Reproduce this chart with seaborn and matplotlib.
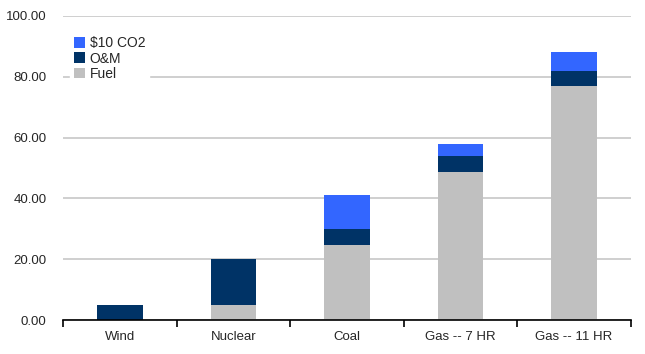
import numpy as np
import pandas as pd
import matplotlib
matplotlib.use("Agg")
import matplotlib.pyplot as plt
import seaborn as sns

# data
categories = ["Wind", "Nuclear", "Coal", "Gas -- 7 HR", "Gas -- 11 HR"]
fuel = [0.0, 5.0, 24.7, 48.8, 76.8]
om = [5.0, 15.0, 5.3, 5.0, 5.0]
co2 = [0.0, 0.0, 11.0, 4.2, 6.5]

sns.set_style("white")
plt.rcParams["font.family"] = ["Liberation Sans", "DejaVu Sans"]

df = pd.DataFrame({"cat": categories, "fuel": fuel, "om": om, "co2": co2})
df["lvl_om"] = df["fuel"] + df["om"]
df["lvl_co2"] = df["lvl_om"] + df["co2"]

fig = plt.figure(figsize=(6.45, 3.54), dpi=100)
ax = fig.add_axes([0.098, 0.096, 0.88, 0.859])

# stacked bars: draw cumulative totals, top layer first
layers = [("lvl_co2", "#3366FF", "$10 CO2"),
          ("lvl_om", "#003366", "O&M"),
          ("fuel", "#C0C0C0", "Fuel")]
for col, color, lab in layers:
    sns.barplot(data=df, x="cat", y=col, color=color, label=lab,
                width=0.4, saturation=1, linewidth=0, ax=ax, zorder=3)

ax.set_ylim(0, 100)
ax.set_xlim(-0.5, len(categories) - 0.5)
ax.set_yticks(np.arange(0, 101, 20))
ax.set_yticklabels([f"{v:.2f}" for v in np.arange(0, 101, 20)], fontsize=9.5)
ax.yaxis.grid(True, color="#CCCCCC", linewidth=1.3, zorder=0)
ax.tick_params(axis="y", length=0, pad=12)

ax.set_xticks(range(len(categories)))
ax.set_xticklabels(categories, fontsize=9.5)
ax.set_xticks(np.arange(-0.5, len(categories)), minor=True)
ax.tick_params(axis="x", which="major", bottom=False, length=0, pad=8)
ax.tick_params(axis="x", which="minor", bottom=True, length=5, width=1.2,
               color="black", direction="out")
ax.set_xlabel("")
ax.set_ylabel("")

for s in ["top", "right", "left"]:
    ax.spines[s].set_visible(False)
ax.spines["bottom"].set_color("black")
ax.spines["bottom"].set_linewidth(1.2)
ax.spines["bottom"].set_zorder(4)

leg = ax.legend(loc="upper left", bbox_to_anchor=(0.0, 0.97), frameon=True,
                fontsize=10, handlelength=0.8, handleheight=0.8,
                handletextpad=0.3, labelspacing=0.1, borderpad=0.3)
leg.get_frame().set_edgecolor("white")
leg.get_frame().set_alpha(1)
leg.set_zorder(5)

fig.savefig("out.png", dpi=100)
